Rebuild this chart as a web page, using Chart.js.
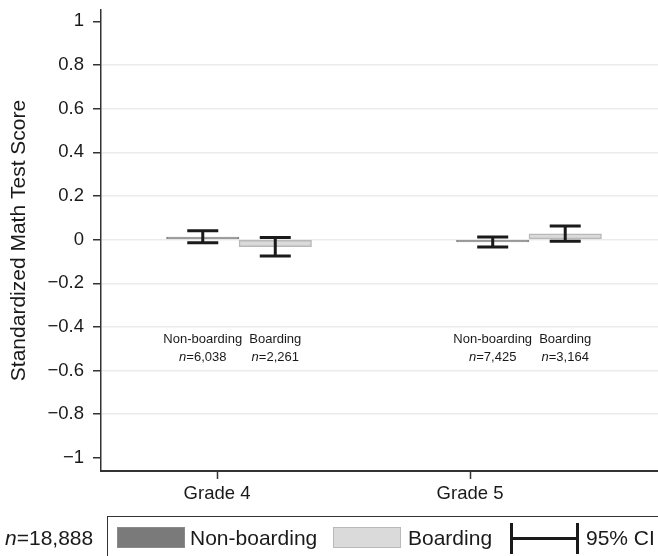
<!DOCTYPE html>
<html>
<head>
<meta charset="utf-8">
<script src="https://cdn.jsdelivr.net/npm/chart.js@4.4.1/dist/chart.umd.min.js"></script>
<style>
  html, body { margin: 0; padding: 0; background: #fff; }
  #wrap { position: relative; width: 658px; height: 556px; overflow: hidden;
          font-family: "Liberation Sans", Arial, Helvetica, sans-serif; color: #1a1a1a; }
  #c { position: absolute; left: 0; top: 0; }
  .abs { position: absolute; white-space: nowrap; }
  .lt { font-size: 21px; line-height: 24px; }
  .sw { box-sizing: border-box; width: 68px; height: 21px; }
</style>
</head>
<body>
<div id="wrap">
  <canvas id="c" width="658" height="556"></canvas>
  <div id="legend"></div>
</div>
<script>
// ---------------- data ----------------
const grades = ["Grade 4", "Grade 5"];
const series = ["Non-boarding", "Boarding"];
const nonBoardingMean = [0.012, -0.010];
const nonBoardingLow  = [-0.014, -0.034];
const nonBoardingHigh = [0.041, 0.012];
const boardingMean = [-0.032, 0.027];
const boardingLow  = [-0.075, -0.008];
const boardingHigh = [0.010, 0.063];
const nonBoardingN = ["6,038", "7,425"];
const boardingN    = ["2,261", "3,164"];
const totalN = "18,888";
const ciLabel = "95% CI";
const yTickValues = [1, 0.8, 0.6, 0.4, 0.2, 0, -0.2, -0.4, -0.6, -0.8, -1];
const yTickLabels = ["1", "0.8", "0.6", "0.4", "0.2", "0", "\u22120.2", "\u22120.4", "\u22120.6", "\u22120.8", "\u22121"];
const yTitle = "Standardized Math Test Score";

// ---------------- layout ----------------
const FONT = '"Liberation Sans", Arial, Helvetica, sans-serif';
const DARK = '#1a1a1a';
const groupShift = [0.087, 0.233];   // group offset from its grade tick (x units)
const halfBar = 0.1433;              // half bar spacing (x units)
const barX = (g, s) => (g + 1) + groupShift[g] + (s === 0 ? -halfBar : halfBar);

const nbData = grades.map((_, i) => ({ x: barX(i, 0), y: nonBoardingMean[i] }));
const bData  = grades.map((_, i) => ({ x: barX(i, 1), y: boardingMean[i] }));

const overlay = {
  id: 'overlay',
  afterDatasetsDraw(chart) {
    const ctx = chart.ctx;
    const ys = chart.scales.y;
    const sets = [
      { lo: nonBoardingLow, hi: nonBoardingHigh, name: series[0], n: nonBoardingN },
      { lo: boardingLow, hi: boardingHigh, name: series[1], n: boardingN }
    ];
    ctx.save();
    sets.forEach((s, di) => {
      const meta = chart.getDatasetMeta(di);
      meta.data.forEach((bar, j) => {
        const cx = bar.x;
        const yl = ys.getPixelForValue(s.lo[j]);
        const yh = ys.getPixelForValue(s.hi[j]);
        ctx.strokeStyle = DARK;
        ctx.lineWidth = 3;
        ctx.lineCap = 'butt';
        ctx.beginPath();
        ctx.moveTo(cx, yl); ctx.lineTo(cx, yh);
        ctx.moveTo(cx - 15.5, yl); ctx.lineTo(cx + 15.5, yl);
        ctx.moveTo(cx - 15.5, yh); ctx.lineTo(cx + 15.5, yh);
        ctx.stroke();
        // labels under bars
        ctx.fillStyle = DARK;
        ctx.textBaseline = 'middle';
        ctx.textAlign = 'center';
        ctx.font = '13px ' + FONT;
        const y1 = ys.getPixelForValue(-0.458);
        const y2 = ys.getPixelForValue(-0.54);
        ctx.fillText(s.name, cx, y1);
        const rest = '=' + s.n[j];
        ctx.font = 'italic 13px ' + FONT;
        const wn = ctx.measureText('n').width;
        ctx.font = '13px ' + FONT;
        const wr = ctx.measureText(rest).width;
        const x0 = cx - (wn + wr) / 2;
        ctx.textAlign = 'left';
        ctx.font = 'italic 13px ' + FONT;
        ctx.fillText('n', x0, y2);
        ctx.font = '13px ' + FONT;
        ctx.fillText(rest, x0 + wn, y2);
      });
    });
    ctx.restore();
  }
};

new Chart(document.getElementById('c'), {
  type: 'bar',
  data: {
    datasets: [
      { label: series[0], data: nbData, backgroundColor: '#7a7a7a', borderColor: '#8a8a8a',
        borderWidth: 1, barThickness: 72.5, grouped: false, borderSkipped: false },
      { label: series[1], data: bData, backgroundColor: '#dadada', borderColor: '#b9b9b9',
        borderWidth: 1.5, barThickness: 72.5, grouped: false, borderSkipped: false }
    ]
  },
  options: {
    responsive: false,
    animation: false,
    devicePixelRatio: 1,
    layout: { padding: { top: 10, right: 0, bottom: 50, left: 0 } },
    plugins: { legend: { display: false }, tooltip: { enabled: false } },
    scales: {
      x: {
        type: 'linear',
        offset: false,
        min: 0.5415, max: 2.743,
        afterBuildTicks: (s) => { s.ticks = grades.map((_, i) => ({ value: i + 1 })); },
        afterFit: (s) => { s.height = 35; s.paddingLeft = 0; s.paddingRight = 0; },
        ticks: {
          callback: (v, i) => grades[i],
          font: { family: FONT, size: 18.5 },
          color: DARK,
          padding: 4,
          maxRotation: 0,
          autoSkip: false
        },
        grid: { offset: false, drawOnChartArea: false, tickLength: 8, tickColor: '#333', tickWidth: 1.5 },
        border: { color: '#333', width: 2 }
      },
      y: {
        min: -1.06, max: 1.052,
        afterBuildTicks: (s) => { s.ticks = yTickValues.map(v => ({ value: v })); },
        afterFit: (s) => { s.width = 101; s.paddingTop = 0; s.paddingBottom = 0; },
        ticks: {
          callback: (v, i) => yTickLabels[i],
          font: { family: FONT, size: 18.5 },
          color: DARK,
          padding: 9,
          autoSkip: false
        },
        grid: {
          color: (c) => (c.tick && Math.abs(c.tick.value) === 1) ? 'rgba(0,0,0,0)' : '#ebebeb',
          lineWidth: 1.5,
          tickLength: 8,
          tickColor: '#333',
          tickWidth: 1.5
        },
        border: { color: '#333', width: 1.5 },
        title: {
          display: true, text: yTitle, color: DARK,
          font: { family: FONT, size: 21 }, padding: { top: 7, bottom: 0 }
        }
      }
    }
  },
  plugins: [overlay]
});

// ---------------- legend (HTML) ----------------
const lg = document.getElementById('legend');
function add(html, style, cls) {
  const d = document.createElement('div');
  d.className = 'abs ' + (cls || '');
  d.innerHTML = html;
  Object.assign(d.style, style);
  lg.appendChild(d);
  return d;
}
add('<i>n</i>=' + totalN, { left: '5px', top: '526px' }, 'lt');
add('', { left: '107px', top: '516px', width: '600px', height: '60px',
          borderLeft: '1.5px solid #333', borderTop: '1.5px solid #333' });
add('', { left: '117px', top: '527px', background: '#7a7a7a', border: '1px solid #8a8a8a' }, 'sw');
add(series[0], { left: '190px', top: '526px' }, 'lt');
add('', { left: '333px', top: '527px', background: '#dadada', border: '1px solid #b9b9b9' }, 'sw');
add(series[1], { left: '408px', top: '526px' }, 'lt');
add('', { left: '510px', top: '523px', width: '3px', height: '31px', background: DARK });
add('', { left: '576px', top: '523px', width: '3px', height: '31px', background: DARK });
add('', { left: '510px', top: '537px', width: '69px', height: '3px', background: DARK });
add(ciLabel, { left: '586px', top: '526px' }, 'lt');
</script>
</body>
</html>
